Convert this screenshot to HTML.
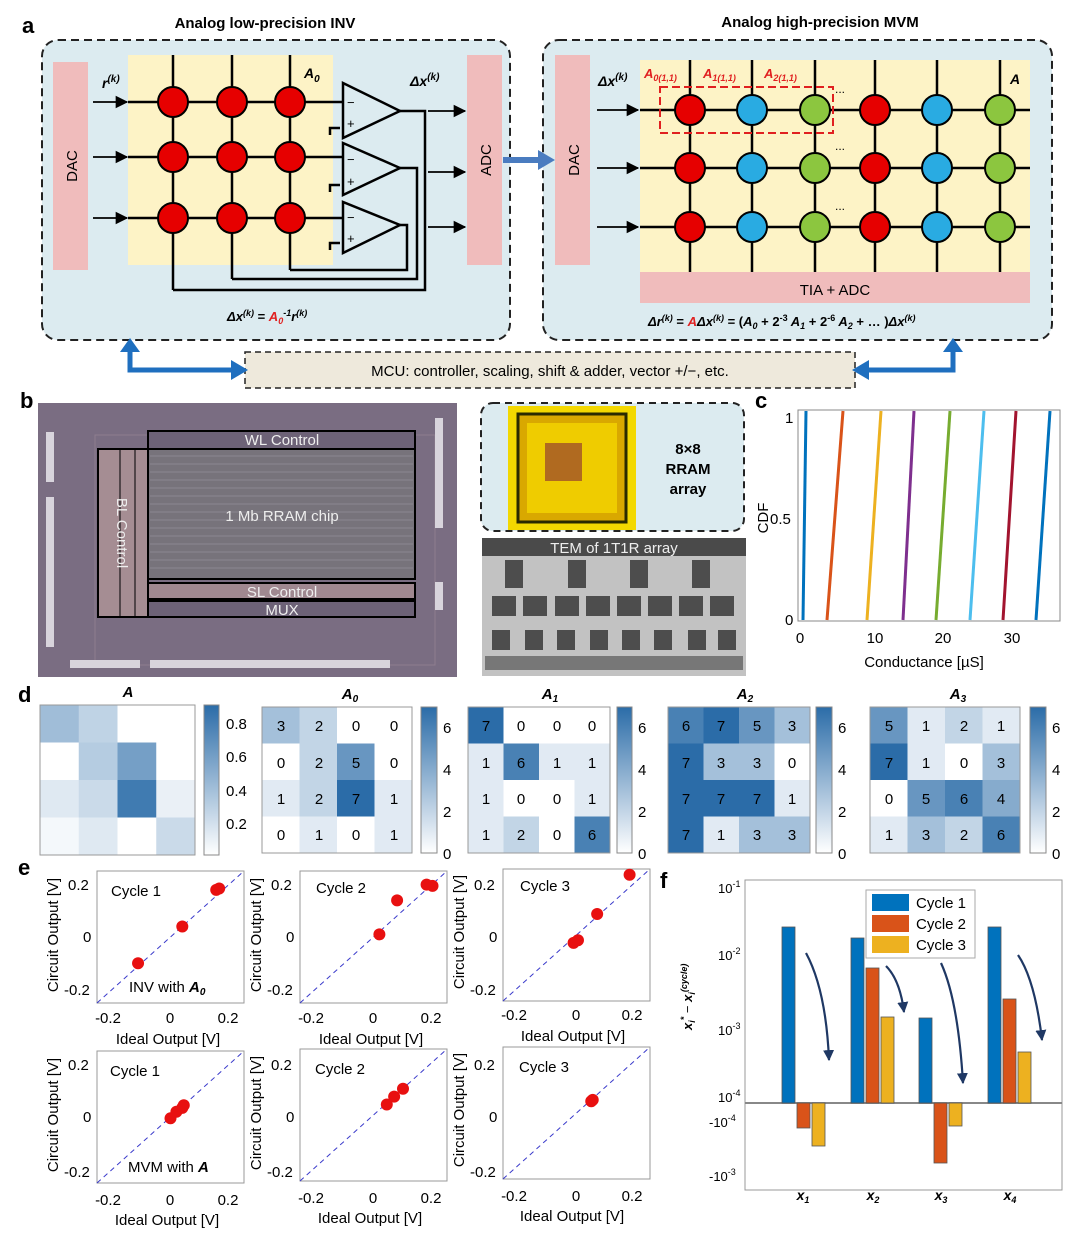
<!DOCTYPE html>
<html><head><meta charset="utf-8"><style>
html,body{margin:0;padding:0;background:#fff}
svg{display:block;font-family:"Liberation Sans",Arial,sans-serif}
.t{font-size:15px}
.n{font-size:15px;text-anchor:middle}
.lab{font-size:22px;font-weight:bold}
</style></head><body>
<svg width="1080" height="1239" viewBox="0 0 1080 1239" xmlns="http://www.w3.org/2000/svg">
<defs>
<marker id="ar" viewBox="0 0 10 10" refX="9" refY="5" markerWidth="7" markerHeight="7" orient="auto"><path d="M0,0L10,5L0,10z" fill="#000"/></marker>
<marker id="an" viewBox="0 0 10 10" refX="9" refY="5" markerWidth="5" markerHeight="6" orient="auto"><path d="M0,0L10,5L0,10z" fill="#1f3864"/></marker>
<linearGradient id="cb" x1="0" y1="1" x2="0" y2="0"><stop offset="0" stop-color="#fff"/><stop offset="1" stop-color="#2b6ca8"/></linearGradient>
</defs>
<!-- ===== Panel a ===== -->
<text x="22" y="33" class="lab">a</text>
<text x="265" y="28" text-anchor="middle" font-size="15" font-weight="bold">Analog low-precision INV</text>
<text x="820" y="27" text-anchor="middle" font-size="15" font-weight="bold">Analog high-precision MVM</text>
<rect x="42" y="40" width="468" height="300" rx="16" fill="#dcebf0" stroke="#222" stroke-width="2" stroke-dasharray="8,5"/>
<rect x="543" y="40" width="509" height="300" rx="16" fill="#dcebf0" stroke="#222" stroke-width="2" stroke-dasharray="8,5"/>
<!-- left -->
<rect x="53" y="62" width="35" height="208" fill="#f0bcbc"/>
<text transform="translate(77,166) rotate(-90)" text-anchor="middle" font-size="15">DAC</text>
<rect x="128" y="55" width="205" height="210" fill="#fdf3c6"/>
<rect x="467" y="55" width="35" height="210" fill="#f0bcbc"/>
<text transform="translate(491,160) rotate(-90)" text-anchor="middle" font-size="15">ADC</text>
<g stroke="#000" stroke-width="2.5" fill="none">
<line x1="173" y1="55" x2="173" y2="290"/><line x1="232" y1="55" x2="232" y2="279"/><line x1="290" y1="55" x2="290" y2="270"/>
<line x1="128" y1="102" x2="343" y2="102"/><line x1="128" y1="157" x2="343" y2="157"/><line x1="128" y1="218" x2="343" y2="218"/>
<polygon points="343,83 343,138 400,111"/><polygon points="343,143 343,195 400,168"/><polygon points="343,202 343,253 400,225"/>
<polyline points="400,111 425,111 425,290 173,290"/><polyline points="400,168 417,168 417,279 232,279"/><polyline points="400,225 407,225 407,270 290,270"/>
<polyline points="340,128 330,128 330,135"/><polyline points="340,185 330,185 330,192"/><polyline points="340,243 330,243 330,250"/>
</g>
<g font-size="13"><text x="347" y="107">−</text><text x="347" y="128">+</text><text x="347" y="164">−</text><text x="347" y="186">+</text><text x="347" y="222">−</text><text x="347" y="243">+</text></g>
<g stroke="#000" stroke-width="1.8" marker-end="url(#ar)">
<line x1="93" y1="102" x2="127" y2="102"/><line x1="93" y1="157" x2="127" y2="157"/><line x1="93" y1="218" x2="127" y2="218"/>
<line x1="428" y1="111" x2="465" y2="111"/><line x1="428" y1="172" x2="465" y2="172"/><line x1="428" y1="227" x2="465" y2="227"/>
</g>
<g fill="#e60000" stroke="#000" stroke-width="2">
<circle cx="173" cy="102" r="15"/><circle cx="232" cy="102" r="15"/><circle cx="290" cy="102" r="15"/>
<circle cx="173" cy="157" r="15"/><circle cx="232" cy="157" r="15"/><circle cx="290" cy="157" r="15"/>
<circle cx="173" cy="218" r="15"/><circle cx="232" cy="218" r="15"/><circle cx="290" cy="218" r="15"/>
</g>
<text x="102" y="88" font-size="14" font-weight="bold" font-style="italic">r<tspan font-size="10" dy="-6">(k)</tspan></text>
<text x="304" y="78" font-size="14" font-weight="bold" font-style="italic">A<tspan font-size="10" dy="4">0</tspan></text>
<text x="410" y="86" font-size="14" font-weight="bold" font-style="italic">Δx<tspan font-size="10" dy="-6">(k)</tspan></text>
<text x="227" y="321" font-size="13" font-weight="bold" font-style="italic">Δx<tspan font-size="9" dy="-5">(k)</tspan><tspan dy="5" font-style="normal"> = </tspan><tspan fill="#e02020">A</tspan><tspan font-size="9" fill="#e02020" dy="3">0</tspan><tspan font-size="9" dy="-8">-1</tspan><tspan dy="5">r</tspan><tspan font-size="9" dy="-5">(k)</tspan></text>
<!-- blue arrow between -->
<line x1="503" y1="160" x2="540" y2="160" stroke="#4a7cc0" stroke-width="6"/>
<polygon points="538,150 555,160 538,170" fill="#4a7cc0"/>
<!-- right -->
<rect x="555" y="55" width="35" height="210" fill="#f0bcbc"/>
<text transform="translate(579,160) rotate(-90)" text-anchor="middle" font-size="15">DAC</text>
<rect x="640" y="60" width="390" height="213" fill="#fdf3c6"/>
<rect x="640" y="272" width="390" height="31" fill="#f0bcbc"/>
<text x="835" y="295" text-anchor="middle" font-size="15">TIA + ADC</text>
<g stroke="#000" stroke-width="2.5">
<line x1="690" y1="60" x2="690" y2="272"/><line x1="752" y1="60" x2="752" y2="272"/><line x1="815" y1="60" x2="815" y2="272"/><line x1="875" y1="60" x2="875" y2="272"/><line x1="937" y1="60" x2="937" y2="272"/><line x1="1000" y1="60" x2="1000" y2="272"/>
<line x1="640" y1="110" x2="1030" y2="110"/><line x1="640" y1="168" x2="1030" y2="168"/><line x1="640" y1="227" x2="1030" y2="227"/>
</g>
<g stroke="#000" stroke-width="1.8" marker-end="url(#ar)">
<line x1="597" y1="110" x2="638" y2="110"/><line x1="597" y1="168" x2="638" y2="168"/><line x1="597" y1="227" x2="638" y2="227"/>
</g>
<g stroke="#000" stroke-width="2">
<g fill="#e60000"><circle cx="690" cy="110" r="15"/><circle cx="875" cy="110" r="15"/><circle cx="690" cy="168" r="15"/><circle cx="875" cy="168" r="15"/><circle cx="690" cy="227" r="15"/><circle cx="875" cy="227" r="15"/></g>
<g fill="#29abe2"><circle cx="752" cy="110" r="15"/><circle cx="937" cy="110" r="15"/><circle cx="752" cy="168" r="15"/><circle cx="937" cy="168" r="15"/><circle cx="752" cy="227" r="15"/><circle cx="937" cy="227" r="15"/></g>
<g fill="#8cc63f"><circle cx="815" cy="110" r="15"/><circle cx="1000" cy="110" r="15"/><circle cx="815" cy="168" r="15"/><circle cx="1000" cy="168" r="15"/><circle cx="815" cy="227" r="15"/><circle cx="1000" cy="227" r="15"/></g>
</g>
<rect x="660" y="87" width="173" height="46" fill="none" stroke="#e02020" stroke-width="2" stroke-dasharray="8,4"/>
<g font-size="13" font-weight="bold" font-style="italic" fill="#e02020">
<text x="644" y="78">A<tspan font-size="9" dy="3">0(1,1)</tspan></text>
<text x="703" y="78">A<tspan font-size="9" dy="3">1(1,1)</tspan></text>
<text x="764" y="78">A<tspan font-size="9" dy="3">2(1,1)</tspan></text>
</g>
<text x="1010" y="84" font-size="14" font-weight="bold" font-style="italic">A</text>
<g font-size="12"><text x="835" y="93">...</text><text x="835" y="150">...</text><text x="835" y="210">...</text></g>
<text x="598" y="86" font-size="14" font-weight="bold" font-style="italic">Δx<tspan font-size="10" dy="-6">(k)</tspan></text>
<text x="648" y="326" font-size="13" font-weight="bold" font-style="italic">Δr<tspan font-size="9" dy="-5">(k)</tspan><tspan dy="5" font-style="normal"> = </tspan><tspan fill="#e02020">A</tspan>Δx<tspan font-size="9" dy="-5">(k)</tspan><tspan dy="5" font-style="normal"> = (</tspan>A<tspan font-size="9" dy="3">0</tspan><tspan dy="-3" font-style="normal"> + 2</tspan><tspan font-size="9" dy="-5" font-style="normal">-3</tspan><tspan dy="5"> A</tspan><tspan font-size="9" dy="3">1</tspan><tspan dy="-3" font-style="normal"> + 2</tspan><tspan font-size="9" dy="-5" font-style="normal">-6</tspan><tspan dy="5"> A</tspan><tspan font-size="9" dy="3">2</tspan><tspan dy="-3" font-style="normal"> + … )</tspan>Δx<tspan font-size="9" dy="-5">(k)</tspan></text>
<!-- MCU -->
<rect x="245" y="352" width="610" height="36" fill="#eee9dc" stroke="#222" stroke-width="1.5" stroke-dasharray="6,4"/>
<text x="550" y="376" text-anchor="middle" font-size="15">MCU: controller, scaling, shift &amp; adder, vector +/−, etc.</text>
<g fill="none" stroke="#1f6fbf" stroke-width="5"><polyline points="130,350 130,370 233,370"/><polyline points="953,350 953,370 867,370"/></g>
<g fill="#1f6fbf"><polygon points="120,352 130,338 140,352"/><polygon points="231,360 248,370 231,380"/><polygon points="943,352 953,338 963,352"/><polygon points="869,360 852,370 869,380"/></g>
<!-- ===== Panel b ===== -->
<text x="20" y="408" class="lab">b</text>
<rect x="38" y="403" width="419" height="274" fill="#7a6d82"/>
<rect x="95" y="435" width="340" height="230" fill="none" stroke="#8e7d8f" stroke-width="1"/>
<rect x="148" y="431" width="267" height="18" fill="#6d6277" stroke="#000" stroke-width="2"/>
<text x="282" y="445" text-anchor="middle" fill="#eee" font-size="15">WL Control</text>
<rect x="98" y="449" width="50" height="168" fill="#a58d93" stroke="#000" stroke-width="2"/>
<line x1="120" y1="449" x2="120" y2="617" stroke="#000" stroke-width="1"/><line x1="135" y1="449" x2="135" y2="617" stroke="#000" stroke-width="1"/>
<text transform="translate(117,533) rotate(90)" text-anchor="middle" fill="#eee" font-size="15">BL Control</text>
<rect x="148" y="449" width="267" height="130" fill="#77737b" stroke="#000" stroke-width="2"/>
<g stroke="#8b8790" stroke-width="1"><path d="M150 456H413M150 464H413M150 472H413M150 480H413M150 488H413M150 496H413M150 504H413M150 512H413M150 520H413M150 528H413M150 536H413M150 544H413M150 552H413M150 560H413M150 568H413"/></g>
<text x="282" y="521" text-anchor="middle" fill="#eee" font-size="15">1 Mb RRAM chip</text>
<rect x="148" y="583" width="267" height="16" fill="#a08890" stroke="#000" stroke-width="2"/>
<text x="282" y="597" text-anchor="middle" fill="#eee" font-size="15">SL Control</text>
<rect x="148" y="601" width="267" height="16" fill="#6d6277" stroke="#000" stroke-width="2"/>
<text x="282" y="615" text-anchor="middle" fill="#eee" font-size="15">MUX</text>
<g fill="#d8d4dc"><rect x="46" y="432" width="8" height="50"/><rect x="46" y="497" width="8" height="150"/><rect x="435" y="418" width="8" height="110"/><rect x="435" y="582" width="8" height="28"/><rect x="70" y="660" width="70" height="8"/><rect x="150" y="660" width="240" height="8"/></g>
<rect x="481" y="403" width="263" height="128" rx="12" fill="#dcebf0" stroke="#222" stroke-width="2" stroke-dasharray="7,5"/>
<rect x="508" y="406" width="128" height="124" fill="#f3d800"/>
<rect x="518" y="414" width="108" height="108" fill="#d9a800" stroke="#2a2a00" stroke-width="3"/>
<rect x="527" y="423" width="90" height="90" fill="#efcc00"/>
<rect x="545" y="443" width="37" height="38" fill="#b06a20"/>
<text x="688" y="454" text-anchor="middle" font-size="15" font-weight="bold">8×8</text>
<text x="688" y="474" text-anchor="middle" font-size="15" font-weight="bold">RRAM</text>
<text x="688" y="494" text-anchor="middle" font-size="15" font-weight="bold">array</text>
<rect x="482" y="538" width="264" height="138" fill="#c2c2c2"/>
<rect x="482" y="538" width="264" height="18" fill="#4a4a4a"/>
<text x="614" y="553" text-anchor="middle" fill="#eee" font-size="15">TEM of 1T1R array</text>
<g fill="#4d4d4d">
<rect x="492" y="596" width="24" height="20"/><rect x="523" y="596" width="24" height="20"/><rect x="555" y="596" width="24" height="20"/><rect x="586" y="596" width="24" height="20"/><rect x="617" y="596" width="24" height="20"/><rect x="648" y="596" width="24" height="20"/><rect x="679" y="596" width="24" height="20"/><rect x="710" y="596" width="24" height="20"/>
<rect x="492" y="630" width="18" height="20"/><rect x="525" y="630" width="18" height="20"/><rect x="557" y="630" width="18" height="20"/><rect x="590" y="630" width="18" height="20"/><rect x="622" y="630" width="18" height="20"/><rect x="654" y="630" width="18" height="20"/><rect x="688" y="630" width="18" height="20"/><rect x="718" y="630" width="18" height="20"/>
<rect x="505" y="560" width="18" height="28"/><rect x="568" y="560" width="18" height="28"/><rect x="630" y="560" width="18" height="28"/><rect x="692" y="560" width="18" height="28"/>
<rect x="485" y="656" width="258" height="14" fill="#777"/>
</g>
<!-- ===== Panel c ===== -->
<text x="755" y="408" class="lab">c</text>
<rect x="798" y="410" width="262" height="211" fill="#fff" stroke="#888" stroke-width="1"/>
<g stroke-width="3" fill="none">
<line x1="803" y1="620" x2="806" y2="411" stroke="#0072BD"/>
<line x1="827" y1="620" x2="843" y2="411" stroke="#D95319"/>
<line x1="867" y1="620" x2="881" y2="411" stroke="#EDB120"/>
<line x1="903" y1="620" x2="914" y2="411" stroke="#7E2F8E"/>
<line x1="936" y1="620" x2="950" y2="411" stroke="#77AC30"/>
<line x1="970" y1="620" x2="984" y2="411" stroke="#4DBEEE"/>
<line x1="1003" y1="620" x2="1016" y2="411" stroke="#A2142F"/>
<line x1="1036" y1="620" x2="1050" y2="411" stroke="#0072BD"/>
</g>
<g class="t"><text x="785" y="423">1</text><text x="770" y="524">0.5</text><text x="785" y="625">0</text>
<text x="800" y="643" text-anchor="middle">0</text><text x="875" y="643" text-anchor="middle">10</text><text x="943" y="643" text-anchor="middle">20</text><text x="1012" y="643" text-anchor="middle">30</text></g>
<text transform="translate(768,518) rotate(-90)" text-anchor="middle" class="t">CDF</text>
<text x="924" y="667" text-anchor="middle" class="t">Conductance [µS]</text>
<!-- ===== Panel d ===== -->
<text x="18" y="702" class="lab">d</text>
<g font-size="15" font-weight="bold" font-style="italic" text-anchor="middle">
<text x="128" y="697">A</text><text x="350" y="699">A<tspan font-size="10" dy="3">0</tspan></text><text x="550" y="699">A<tspan font-size="10" dy="3">1</tspan></text><text x="745" y="699">A<tspan font-size="10" dy="3">2</tspan></text><text x="958" y="699">A<tspan font-size="10" dy="3">3</tspan></text></g>
<g id="hm"></g>
<g fill="none" stroke="#999" stroke-width="1">
<rect x="40" y="705" width="155" height="150"/><rect x="262" y="707" width="150" height="146"/><rect x="468" y="707" width="142" height="146"/><rect x="668" y="707" width="142" height="146"/><rect x="870" y="707" width="150" height="146"/>
</g>
<g fill="url(#cb)" stroke="#888" stroke-width="1">
<rect x="204" y="705" width="15" height="150"/><rect x="421" y="707" width="16" height="146"/><rect x="617" y="707" width="15" height="146"/><rect x="816" y="707" width="16" height="146"/><rect x="1030" y="707" width="16" height="146"/>
</g>
<g class="t"><text x="226" y="729">0.8</text><text x="226" y="762">0.6</text><text x="226" y="796">0.4</text><text x="226" y="829">0.2</text>
<text x="443" y="733">6</text><text x="443" y="775">4</text><text x="443" y="817">2</text><text x="443" y="859">0</text>
<text x="638" y="733">6</text><text x="638" y="775">4</text><text x="638" y="817">2</text><text x="638" y="859">0</text>
<text x="838" y="733">6</text><text x="838" y="775">4</text><text x="838" y="817">2</text><text x="838" y="859">0</text>
<text x="1052" y="733">6</text><text x="1052" y="775">4</text><text x="1052" y="817">2</text><text x="1052" y="859">0</text></g>
<g class="n" id="nums">
<text x="281" y="731">3</text><text x="319" y="731">2</text><text x="356" y="731">0</text><text x="394" y="731">0</text>
<text x="281" y="768">0</text><text x="319" y="768">2</text><text x="356" y="768">5</text><text x="394" y="768">0</text>
<text x="281" y="804">1</text><text x="319" y="804">2</text><text x="356" y="804">7</text><text x="394" y="804">1</text>
<text x="281" y="840">0</text><text x="319" y="840">1</text><text x="356" y="840">0</text><text x="394" y="840">1</text>
<text x="486" y="731">7</text><text x="521" y="731">0</text><text x="557" y="731">0</text><text x="592" y="731">0</text>
<text x="486" y="768">1</text><text x="521" y="768">6</text><text x="557" y="768">1</text><text x="592" y="768">1</text>
<text x="486" y="804">1</text><text x="521" y="804">0</text><text x="557" y="804">0</text><text x="592" y="804">1</text>
<text x="486" y="840">1</text><text x="521" y="840">2</text><text x="557" y="840">0</text><text x="592" y="840">6</text>
<text x="686" y="731">6</text><text x="721" y="731">7</text><text x="757" y="731">5</text><text x="792" y="731">3</text>
<text x="686" y="768">7</text><text x="721" y="768">3</text><text x="757" y="768">3</text><text x="792" y="768">0</text>
<text x="686" y="804">7</text><text x="721" y="804">7</text><text x="757" y="804">7</text><text x="792" y="804">1</text>
<text x="686" y="840">7</text><text x="721" y="840">1</text><text x="757" y="840">3</text><text x="792" y="840">3</text>
<text x="889" y="731">5</text><text x="926" y="731">1</text><text x="964" y="731">2</text><text x="1001" y="731">1</text>
<text x="889" y="768">7</text><text x="926" y="768">1</text><text x="964" y="768">0</text><text x="1001" y="768">3</text>
<text x="889" y="804">0</text><text x="926" y="804">5</text><text x="964" y="804">6</text><text x="1001" y="804">4</text>
<text x="889" y="840">1</text><text x="926" y="840">3</text><text x="964" y="840">2</text><text x="1001" y="840">6</text>
</g>
<!-- ===== Panel e ===== -->
<text x="18" y="875" class="lab">e</text>
<g id="sc"></g>
<g class="t">
<text x="68" y="890">0.2</text><text x="83" y="942">0</text><text x="64" y="995">-0.2</text>
<text x="271" y="890">0.2</text><text x="286" y="942">0</text><text x="267" y="995">-0.2</text>
<text x="474" y="890">0.2</text><text x="489" y="942">0</text><text x="470" y="995">-0.2</text>
<text x="68" y="1070">0.2</text><text x="83" y="1122">0</text><text x="64" y="1177">-0.2</text>
<text x="271" y="1070">0.2</text><text x="286" y="1122">0</text><text x="267" y="1177">-0.2</text>
<text x="474" y="1070">0.2</text><text x="489" y="1122">0</text><text x="470" y="1177">-0.2</text>
<g text-anchor="middle">
<text x="108" y="1023">-0.2</text><text x="170" y="1023">0</text><text x="228" y="1023">0.2</text>
<text x="311" y="1023">-0.2</text><text x="373" y="1023">0</text><text x="431" y="1023">0.2</text>
<text x="514" y="1020">-0.2</text><text x="576" y="1020">0</text><text x="632" y="1020">0.2</text>
<text x="108" y="1205">-0.2</text><text x="170" y="1205">0</text><text x="228" y="1205">0.2</text>
<text x="311" y="1203">-0.2</text><text x="373" y="1203">0</text><text x="431" y="1203">0.2</text>
<text x="514" y="1201">-0.2</text><text x="576" y="1201">0</text><text x="632" y="1201">0.2</text>
<text x="168" y="1044">Ideal Output [V]</text><text x="371" y="1044">Ideal Output [V]</text><text x="573" y="1041">Ideal Output [V]</text>
<text x="167" y="1225">Ideal Output [V]</text><text x="370" y="1223">Ideal Output [V]</text><text x="572" y="1221">Ideal Output [V]</text>
<text transform="translate(58,935) rotate(-90)">Circuit Output [V]</text><text transform="translate(261,935) rotate(-90)">Circuit Output [V]</text><text transform="translate(464,932) rotate(-90)">Circuit Output [V]</text>
<text transform="translate(58,1115) rotate(-90)">Circuit Output [V]</text><text transform="translate(261,1113) rotate(-90)">Circuit Output [V]</text><text transform="translate(464,1110) rotate(-90)">Circuit Output [V]</text>
</g>
<text x="111" y="896">Cycle 1</text><text x="316" y="893">Cycle 2</text><text x="520" y="891">Cycle 3</text>
<text x="110" y="1076">Cycle 1</text><text x="315" y="1074">Cycle 2</text><text x="519" y="1072">Cycle 3</text>
<text x="129" y="992">INV with <tspan font-weight="bold" font-style="italic">A</tspan><tspan font-size="10" font-weight="bold" font-style="italic" dy="3">0</tspan></text>
<text x="128" y="1172">MVM with <tspan font-weight="bold" font-style="italic">A</tspan></text>
</g>
<!-- ===== Panel f ===== -->
<text x="660" y="888" class="lab">f</text>
<rect x="745" y="880" width="317" height="310" fill="#fff" stroke="#999" stroke-width="1"/>
<line x1="745" y1="1103" x2="1062" y2="1103" stroke="#888" stroke-width="2"/>
<g font-size="13">
<text x="718" y="893">10<tspan font-size="9" dy="-6">-1</tspan></text>
<text x="718" y="960">10<tspan font-size="9" dy="-6">-2</tspan></text>
<text x="718" y="1035">10<tspan font-size="9" dy="-6">-3</tspan></text>
<text x="718" y="1102">10<tspan font-size="9" dy="-6">-4</tspan></text>
<text x="709" y="1127">-10<tspan font-size="9" dy="-6">-4</tspan></text>
<text x="709" y="1181">-10<tspan font-size="9" dy="-6">-3</tspan></text>
</g>
<g stroke="#555" stroke-width="0.8">
<rect x="782" y="927" width="13" height="176" fill="#0072BD"/>
<rect x="797" y="1103" width="13" height="25" fill="#D95319"/>
<rect x="812" y="1103" width="13" height="43" fill="#EDB120"/>
<rect x="851" y="938" width="13" height="165" fill="#0072BD"/>
<rect x="866" y="968" width="13" height="135" fill="#D95319"/>
<rect x="881" y="1017" width="13" height="86" fill="#EDB120"/>
<rect x="919" y="1018" width="13" height="85" fill="#0072BD"/>
<rect x="934" y="1103" width="13" height="60" fill="#D95319"/>
<rect x="949" y="1103" width="13" height="23" fill="#EDB120"/>
<rect x="988" y="927" width="13" height="176" fill="#0072BD"/>
<rect x="1003" y="999" width="13" height="104" fill="#D95319"/>
<rect x="1018" y="1052" width="13" height="51" fill="#EDB120"/>
</g>
<g fill="none" stroke="#1f3864" stroke-width="2.2" marker-end="url(#an)">
<path d="M806,953 Q826,990 829,1060"/><path d="M886,966 Q900,980 904,1012"/><path d="M941,963 Q958,1000 963,1083"/><path d="M1018,955 Q1035,980 1042,1040"/>
</g>
<rect x="866" y="890" width="109" height="68" fill="#fff" stroke="#aaa"/>
<rect x="872" y="894" width="37" height="17" fill="#0072BD"/><rect x="872" y="915" width="37" height="17" fill="#D95319"/><rect x="872" y="936" width="37" height="17" fill="#EDB120"/>
<g class="t"><text x="916" y="908">Cycle 1</text><text x="916" y="929">Cycle 2</text><text x="916" y="950">Cycle 3</text></g>
<text transform="translate(692,1030) rotate(-90)" font-size="13" font-weight="bold" font-style="italic">x<tspan font-size="9" dy="3">i</tspan><tspan font-size="9" dy="-8">*</tspan><tspan dy="5" font-style="normal" font-weight="normal"> − </tspan>x<tspan font-size="9" dy="3">i</tspan><tspan font-size="9" dy="-8">(cycle)</tspan></text>
<g font-size="14" font-weight="bold" font-style="italic" text-anchor="middle">
<text x="803" y="1200">x<tspan font-size="9" dy="3">1</tspan></text><text x="873" y="1200">x<tspan font-size="9" dy="3">2</tspan></text><text x="941" y="1200">x<tspan font-size="9" dy="3">3</tspan></text><text x="1010" y="1200">x<tspan font-size="9" dy="3">4</tspan></text></g>
<script>
(function(){
var NS="http://www.w3.org/2000/svg";
function el(p,t,a){var e=document.createElementNS(NS,t);for(var k in a)e.setAttribute(k,a[k]);p.appendChild(e);return e;}
function col(f){var r=Math.round(255+(43-255)*f),g=Math.round(255+(108-255)*f),b=Math.round(255+(168-255)*f);return "rgb("+r+","+g+","+b+")";}
var hm=document.getElementById("hm");
var maps=[
 [40,705,155,150,[[.45,.3,0,0],[0,.35,.65,0],[.15,.25,.9,.1],[.05,.15,0,.25]],1],
 [262,707,150,146,[[3,2,0,0],[0,2,5,0],[1,2,7,1],[0,1,0,1]],7],
 [468,707,142,146,[[7,0,0,0],[1,6,1,1],[1,0,0,1],[1,2,0,6]],7],
 [668,707,142,146,[[6,7,5,3],[7,3,3,0],[7,7,7,1],[7,1,3,3]],7],
 [870,707,150,146,[[5,1,2,1],[7,1,0,3],[0,5,6,4],[1,3,2,6]],7]];
maps.forEach(function(m){var w=m[2]/4,h=m[3]/4;for(var i=0;i<4;i++)for(var j=0;j<4;j++)el(hm,"rect",{x:m[0]+j*w,y:m[1]+i*h,width:w+0.5,height:h+0.5,fill:col(m[4][i][j]/m[5])});});
var sc=document.getElementById("sc");
var P=[[170.5,937,[[-.11,-.1],[.04,.04],[.155,.18],[.165,.185]]],[373.5,937,[[.02,.01],[.08,.14],[.18,.2],[.2,.195]]],[576.5,935,[[-.01,-.03],[.005,-.02],[.07,.08],[.18,.23]]],
[170.5,1117,[[0,-.005],[.02,.02],[.04,.035],[.045,.045]]],[373.5,1115,[[.045,.04],[.07,.07],[.1,.1]]],[576.5,1113,[[.05,.045],[.055,.05]]]];
P.forEach(function(p){var cx=p[0],cy=p[1],sx=295,sy=262;
 el(sc,"rect",{x:cx-73.5,y:cy-66,width:147,height:132,fill:"#fff",stroke:"#999","stroke-width":1});
 el(sc,"line",{x1:cx-73.5,y1:cy+66,x2:cx+73.5,y2:cy-66,stroke:"#3a3acb","stroke-width":1,"stroke-dasharray":"5,4"});
 p[2].forEach(function(d){el(sc,"circle",{cx:cx+d[0]*sx,cy:cy-d[1]*sy,r:6,fill:"#e81010"});});});
})();
</script>
</svg>
</body></html>
